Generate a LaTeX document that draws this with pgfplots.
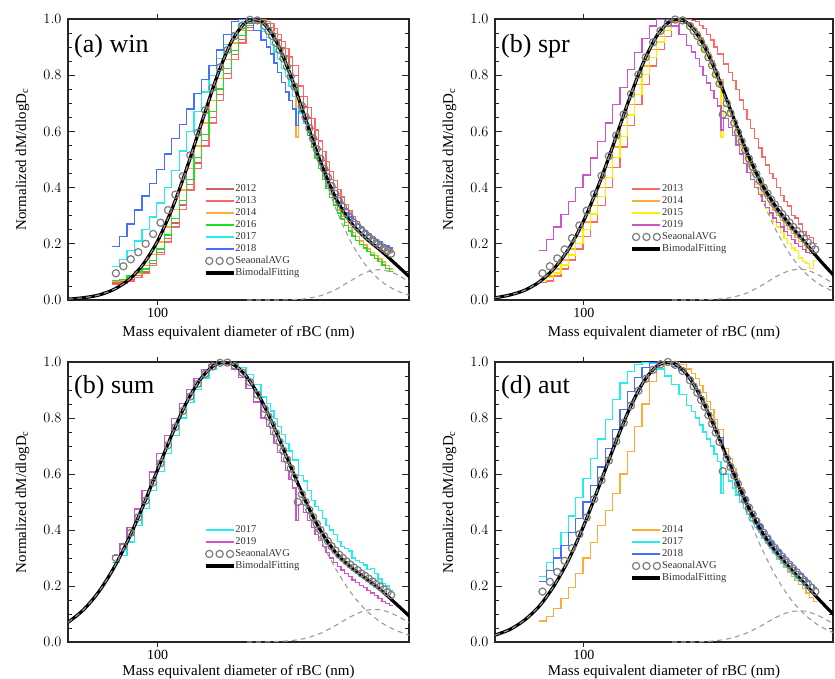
\documentclass[border=0pt]{standalone}
\usepackage{fontspec}
\setmainfont{Liberation Serif}
\usepackage{pgfplots}
\usepackage{pgfplotstable}
\pgfplotsset{compat=1.18}

\definecolor{c2012}{RGB}{214,96,96}
\definecolor{c2013}{RGB}{255,102,102}
\definecolor{c2014}{RGB}{255,172,55}
\definecolor{c2015}{RGB}{255,238,0}
\definecolor{c2016}{RGB}{34,221,34}
\definecolor{c2017}{RGB}{34,238,238}
\definecolor{c2018}{RGB}{72,110,255}
\definecolor{c2019}{RGB}{204,85,204}
\definecolor{avggrey}{RGB}{125,125,125}
\definecolor{modegrey}{RGB}{155,155,155}

% x = left edge of each step, xc = bin centre (SeaonalAVG circles)
% winter
\pgfplotstableread{
x xc c s12 s13 s14 s16 s17 s18
70.39 72.44 0.095 0.060 0.055 0.065 0.070 0.120 0.190
74.56 76.74 0.120 0.066 0.060 0.070 0.073 0.145 0.225
78.98 81.28 0.145 0.074 0.068 0.080 0.085 0.175 0.270
83.66 86.10 0.170 0.088 0.080 0.095 0.100 0.210 0.320
88.62 91.20 0.200 0.100 0.095 0.123 0.110 0.250 0.370
93.87 96.61 0.235 0.130 0.123 0.161 0.140 0.295 0.415
99.43 102.3 0.275 0.170 0.161 0.206 0.182 0.345 0.465
105.3 108.4 0.320 0.218 0.206 0.260 0.231 0.400 0.520
111.6 114.8 0.375 0.274 0.260 0.322 0.289 0.460 0.575
118.2 121.6 0.440 0.338 0.322 0.392 0.355 0.530 0.625
125.2 128.8 0.515 0.410 0.392 0.468 0.428 0.600 0.680
132.6 136.5 0.595 0.488 0.468 0.548 0.507 0.670 0.735
140.5 144.5 0.675 0.568 0.548 0.630 0.589 0.740 0.785
148.8 153.1 0.755 0.650 0.630 0.711 0.671 0.800 0.835
157.6 162.2 0.828 0.731 0.711 0.788 0.751 0.860 0.890
166.9 171.8 0.890 0.806 0.788 0.857 0.825 0.910 0.945
176.8 182.0 0.940 0.873 0.857 0.915 0.889 0.950 0.990
187.3 192.8 0.977 0.928 0.915 0.960 0.941 0.983 1.000
198.4 204.2 0.997 0.969 0.960 0.988 0.978 1.000 0.985
210.2 216.3 0.995 0.993 0.988 0.998 0.997 0.985 0.960
222.6 229.1 0.975 0.995 0.998 0.985 0.990 0.955 0.925
232.4 235.8 0.958 0.983 0.992 0.970 0.970 0.933 0.900
239.2 242.7 0.940 0.970 0.985 0.955 0.950 0.910 0.875
246.2 249.8 0.915 0.948 0.966 0.930 0.923 0.883 0.843
253.4 257.0 0.890 0.925 0.946 0.905 0.895 0.855 0.810
260.8 264.6 0.860 0.897 0.921 0.873 0.863 0.825 0.775
268.4 272.3 0.830 0.868 0.896 0.840 0.830 0.795 0.740
276.3 280.2 0.795 0.834 0.865 0.803 0.793 0.760 0.710
284.3 288.4 0.760 0.800 0.834 0.765 0.755 0.725 0.680
292.2 296.0 nan 0.800 0.834 0.580 0.755 0.725 0.620
298.0 300.0 nan 0.725 0.762 0.680 0.675 0.665 0.670
302.7 305.5 0.690 0.725 0.762 0.680 0.675 0.665 0.670
310.0 314.4 0.651 0.687 0.723 0.638 0.630 0.630 0.635
319.0 323.6 0.612 0.648 0.684 0.595 0.585 0.595 0.600
328.3 333.1 0.575 0.610 0.645 0.555 0.545 0.560 0.562
337.9 342.8 0.537 0.572 0.605 0.515 0.505 0.525 0.525
347.8 352.8 0.502 0.535 0.566 0.478 0.468 0.493 0.492
357.9 363.1 0.467 0.497 0.528 0.440 0.430 0.460 0.460
368.4 373.7 0.436 0.463 0.492 0.408 0.398 0.430 0.430
379.1 384.6 0.405 0.430 0.457 0.375 0.365 0.400 0.400
390.2 395.9 0.378 0.401 0.425 0.348 0.338 0.375 0.375
401.6 407.4 0.352 0.372 0.394 0.320 0.310 0.350 0.350
413.3 419.4 0.331 0.348 0.367 0.298 0.288 0.330 0.330
425.4 431.5 0.310 0.325 0.340 0.275 0.265 0.310 0.310
437.8 444.2 0.292 0.306 0.318 0.258 0.246 0.298 0.295
450.6 457.1 0.275 0.287 0.297 0.240 0.228 0.280 0.280
463.8 470.6 0.261 0.271 0.279 0.225 0.213 0.268 0.270
477.3 484.2 0.248 0.256 0.262 0.210 0.198 0.255 0.258
491.3 498.5 0.236 0.243 0.248 0.196 0.185 0.243 0.245
505.6 512.9 0.225 0.230 0.235 0.182 0.172 0.232 0.235
520.4 528.0 0.214 0.218 0.223 0.170 0.160 0.222 0.227
535.6 543.3 0.204 0.207 0.211 0.158 0.148 0.212 0.215
551.2 559.3 0.194 0.197 0.200 0.146 0.136 0.204 0.208
567.4 575.4 0.184 0.187 0.189 0.135 0.125 0.196 0.198
584.0 592.4 0.174 0.177 0.180 0.122 0.113 0.189 0.192
601.0 609.5 0.165 0.168 0.172 0.110 0.102 0.182 0.185
618.4 nan nan 0.168 0.172 0.110 0.102 0.182 0.185
}\tabA

% spring
\pgfplotstableread{
x xc c s13 s14 s15 s19
70.39 72.44 0.095 0.062 0.070 0.070 0.175
74.56 76.74 0.120 0.068 0.085 0.080 0.215
78.98 81.28 0.148 0.085 0.110 0.096 0.260
83.66 86.10 0.180 0.110 0.142 0.125 0.305
88.62 91.20 0.220 0.142 0.181 0.160 0.350
93.87 96.61 0.265 0.181 0.226 0.202 0.400
99.43 102.3 0.318 0.226 0.278 0.250 0.445
105.3 108.4 0.377 0.278 0.337 0.306 0.505
111.6 114.8 0.442 0.337 0.400 0.368 0.565
118.2 121.6 0.512 0.400 0.471 0.435 0.630
125.2 128.8 0.585 0.471 0.545 0.507 0.695
132.6 136.5 0.660 0.545 0.620 0.582 0.755
140.5 144.5 0.733 0.620 0.695 0.658 0.820
148.8 153.1 0.802 0.695 0.767 0.732 0.880
157.6 162.2 0.864 0.767 0.833 0.802 0.930
166.9 171.8 0.917 0.833 0.891 0.864 0.975
176.8 182.0 0.958 0.891 0.938 0.918 1.000
187.3 192.8 0.986 0.938 0.973 0.959 0.990
198.4 204.2 0.998 0.973 0.993 0.987 0.975
210.2 216.3 0.995 0.993 0.998 0.999 0.945
222.6 229.1 0.975 0.999 0.985 0.975 0.905
232.4 235.8 0.958 0.995 0.970 0.958 0.883
239.2 242.7 0.940 0.990 0.955 0.940 0.860
246.2 249.8 0.917 0.978 0.933 0.915 0.830
253.4 257.0 0.893 0.965 0.910 0.890 0.800
260.8 264.6 0.864 0.945 0.881 0.860 0.772
268.4 272.3 0.835 0.925 0.852 0.830 0.745
276.3 280.2 0.803 0.900 0.818 0.797 0.718
284.3 288.4 0.770 0.875 0.785 0.765 0.690
292.2 296.0 0.660 0.875 0.785 0.580 0.605
298.0 300.0 nan 0.840 0.710 0.690 0.645
302.7 305.5 0.700 0.840 0.710 0.690 0.645
310.0 314.4 0.665 0.810 0.672 0.655 0.615
319.0 323.6 0.630 0.781 0.635 0.620 0.585
328.3 333.1 0.597 0.748 0.598 0.583 0.552
337.9 342.8 0.565 0.712 0.562 0.545 0.520
347.8 352.8 0.534 0.677 0.528 0.510 0.487
357.9 363.1 0.503 0.642 0.495 0.475 0.455
368.4 373.7 0.475 0.610 0.465 0.442 0.428
379.1 384.6 0.448 0.574 0.435 0.410 0.400
390.2 395.9 0.424 0.541 0.409 0.382 0.375
401.6 407.4 0.400 0.509 0.383 0.355 0.350
413.3 419.4 0.379 0.480 0.360 0.327 0.330
425.4 431.5 0.358 0.451 0.338 0.300 0.310
437.8 444.2 0.340 0.432 0.319 0.280 0.292
450.6 457.1 0.322 0.401 0.300 0.260 0.275
463.8 470.6 0.306 0.372 0.283 0.240 0.260
477.3 484.2 0.290 0.350 0.266 0.220 0.245
491.3 498.5 0.275 0.335 0.251 0.202 0.230
505.6 512.9 0.260 0.300 0.236 0.185 0.215
520.4 528.0 0.246 0.292 0.222 0.175 0.202
535.6 543.3 0.232 0.270 0.208 0.150 0.190
551.2 559.3 0.218 0.245 0.195 0.138 0.180
567.4 575.4 0.205 0.230 0.183 0.130 0.170
584.0 592.4 0.192 0.222 0.174 0.112 0.165
601.0 609.5 0.180 0.200 0.165 0.140 0.160
618.4 nan nan 0.200 0.165 0.140 0.160
}\tabB

% summer
\pgfplotstableread{
x xc c s17 s19
70.39 72.44 0.300 0.285 0.310
74.56 76.74 0.340 0.310 0.350
78.98 81.28 0.390 0.357 0.410
83.66 86.10 0.445 0.415 0.475
88.62 91.20 0.505 0.478 0.540
93.87 96.61 0.570 0.542 0.607
99.43 102.3 0.638 0.608 0.673
105.3 108.4 0.703 0.674 0.737
111.6 114.8 0.767 0.738 0.797
118.2 121.6 0.825 0.800 0.852
125.2 128.8 0.877 0.855 0.902
132.6 136.5 0.922 0.903 0.942
140.5 144.5 0.958 0.943 0.972
148.8 153.1 0.984 0.973 0.992
157.6 162.2 0.997 0.992 1.000
166.9 171.8 0.998 1.000 0.993
176.8 182.0 0.985 0.995 0.975
187.3 192.8 0.962 0.980 0.945
198.4 204.2 0.928 0.955 0.905
210.2 216.3 0.884 0.920 0.857
222.6 229.1 0.833 0.875 0.800
232.4 235.8 0.805 0.852 0.770
239.2 242.7 0.776 0.825 0.740
246.2 249.8 0.746 0.798 0.708
253.4 257.0 0.715 0.770 0.677
260.8 264.6 0.683 0.742 0.645
268.4 272.3 0.652 0.710 0.612
276.3 280.2 0.620 0.682 0.580
284.3 288.4 0.588 0.650 0.550
292.2 296.0 0.500 0.650 0.435
298.0 300.0 nan 0.595 0.490
302.7 305.5 0.528 0.595 0.490
310.0 314.4 0.500 0.575 0.462
319.0 323.6 0.472 0.540 0.435
328.3 333.1 0.447 0.505 0.410
337.9 342.8 0.422 0.485 0.385
347.8 352.8 0.400 0.470 0.362
357.9 363.1 0.378 0.440 0.340
368.4 373.7 0.360 0.415 0.320
379.1 384.6 0.342 0.400 0.300
390.2 395.9 0.327 0.385 0.285
401.6 407.4 0.312 0.360 0.270
413.3 419.4 0.300 0.340 0.257
425.4 431.5 0.288 0.335 0.245
437.8 444.2 0.277 0.325 0.233
450.6 457.1 0.266 0.300 0.222
463.8 470.6 0.256 0.290 0.212
477.3 484.2 0.245 0.285 0.203
491.3 498.5 0.236 0.275 0.194
505.6 512.9 0.226 0.260 0.185
520.4 528.0 0.216 0.262 0.175
535.6 543.3 0.207 0.245 0.165
551.2 559.3 0.198 0.225 0.155
567.4 575.4 0.188 0.210 0.145
584.0 592.4 0.178 0.200 0.138
601.0 609.5 0.168 0.185 0.130
618.4 nan nan 0.185 0.130
}\tabC

% autumn
\pgfplotstableread{
x xc c s14 s17 s18
70.39 72.44 0.180 0.075 0.235 0.215
74.56 76.74 0.215 0.090 0.285 0.255
78.98 81.28 0.250 0.120 0.335 0.300
83.66 86.10 0.290 0.155 0.390 0.345
88.62 91.20 0.335 0.195 0.450 0.390
93.87 96.61 0.385 0.245 0.515 0.440
99.43 102.3 0.445 0.300 0.585 0.500
105.3 108.4 0.510 0.355 0.655 0.560
111.6 114.8 0.578 0.415 0.725 0.625
118.2 121.6 0.648 0.470 0.795 0.690
125.2 128.8 0.717 0.530 0.865 0.760
132.6 136.5 0.783 0.600 0.925 0.830
140.5 144.5 0.844 0.680 0.965 0.895
148.8 153.1 0.897 0.770 0.990 0.945
157.6 162.2 0.940 0.850 1.000 0.980
166.9 171.8 0.972 0.930 0.995 0.997
176.8 182.0 0.992 0.975 0.975 1.000
187.3 192.8 1.000 0.990 0.950 0.995
198.4 204.2 0.990 1.000 0.920 0.985
210.2 216.3 0.968 0.990 0.885 0.970
222.6 229.1 0.935 0.975 0.845 0.940
232.4 235.8 0.913 0.958 0.823 0.920
239.2 242.7 0.890 0.940 0.800 0.900
246.2 249.8 0.865 0.915 0.775 0.875
253.4 257.0 0.840 0.890 0.750 0.850
260.8 264.6 0.810 0.860 0.725 0.820
268.4 272.3 0.780 0.830 0.700 0.790
276.3 280.2 0.748 0.795 0.672 0.760
284.3 288.4 0.715 0.760 0.645 0.730
292.2 296.0 0.610 0.760 0.530 0.730
298.0 300.0 nan 0.690 0.600 0.665
302.7 305.5 0.655 0.690 0.600 0.665
310.0 314.4 0.625 0.655 0.575 0.635
319.0 323.6 0.595 0.620 0.550 0.605
328.3 333.1 0.565 0.585 0.525 0.575
337.9 342.8 0.535 0.550 0.500 0.545
347.8 352.8 0.508 0.517 0.478 0.517
357.9 363.1 0.480 0.485 0.455 0.490
368.4 373.7 0.456 0.457 0.432 0.465
379.1 384.6 0.432 0.430 0.410 0.440
390.2 395.9 0.411 0.405 0.390 0.418
401.6 407.4 0.390 0.380 0.370 0.395
413.3 419.4 0.371 0.357 0.352 0.376
425.4 431.5 0.352 0.335 0.335 0.357
437.8 444.2 0.336 0.316 0.318 0.341
450.6 457.1 0.320 0.297 0.300 0.325
463.8 470.6 0.305 0.281 0.285 0.310
477.3 484.2 0.290 0.265 0.270 0.295
491.3 498.5 0.276 0.250 0.256 0.281
505.6 512.9 0.262 0.235 0.243 0.267
520.4 528.0 0.248 0.220 0.229 0.253
535.6 543.3 0.235 0.205 0.215 0.240
551.2 559.3 0.221 0.190 0.202 0.228
567.4 575.4 0.208 0.175 0.190 0.215
584.0 592.4 0.194 0.160 0.177 0.205
601.0 609.5 0.180 0.145 0.165 0.195
618.4 nan nan 0.145 0.165 0.195
}\tabD

% bimodal fit (F) and its two modes (M1, M2) for each season
\pgfplotstableread{
x Fa M1a M2a Fb M1b M2b Fc M1c M2c Fd M1d M2d
50.12 0.003 0.003 nan 0.008 0.008 nan 0.071 0.071 nan 0.025 0.025 nan
56.23 0.008 0.008 nan 0.018 0.018 nan 0.114 0.114 nan 0.045 0.045 nan
63.10 0.017 0.017 nan 0.035 0.035 nan 0.176 0.176 nan 0.079 0.079 nan
70.79 0.036 0.036 nan 0.065 0.065 nan 0.259 0.259 nan 0.129 0.129 nan
79.43 0.069 0.069 nan 0.113 0.113 nan 0.362 0.362 nan 0.202 0.202 nan
89.13 0.125 0.125 nan 0.184 0.184 nan 0.483 0.483 nan 0.297 0.297 nan
100.0 0.210 0.210 nan 0.283 0.283 nan 0.615 0.615 nan 0.416 0.416 nan
112.2 0.328 0.328 nan 0.408 0.408 nan 0.745 0.745 nan 0.551 0.551 nan
125.9 0.475 0.475 nan 0.552 0.552 nan 0.861 0.861 nan 0.691 0.691 nan
141.3 0.638 0.638 nan 0.703 0.703 nan 0.947 0.947 nan 0.821 0.821 nan
158.5 0.796 0.796 nan 0.840 0.840 nan 0.994 0.994 nan 0.925 0.925 nan
177.8 0.922 0.922 nan 0.944 0.944 nan 0.994 0.994 nan 0.987 0.987 nan
199.5 0.991 0.991 0.000 0.996 0.996 0.000 0.947 0.947 0.000 0.998 0.998 0.000
223.9 0.990 0.990 0.000 0.987 0.987 0.000 0.861 0.861 0.000 0.955 0.955 0.000
251.2 0.918 0.918 0.000 0.920 0.919 0.001 0.747 0.745 0.002 0.868 0.867 0.001
281.8 0.791 0.790 0.001 0.807 0.804 0.003 0.620 0.615 0.005 0.750 0.745 0.005
316.2 0.636 0.631 0.005 0.670 0.661 0.009 0.497 0.483 0.014 0.621 0.607 0.014
354.8 0.485 0.469 0.016 0.534 0.510 0.024 0.394 0.362 0.032 0.499 0.468 0.031
398.1 0.360 0.323 0.038 0.420 0.370 0.050 0.318 0.259 0.060 0.399 0.342 0.057
446.7 0.275 0.206 0.069 0.334 0.252 0.082 0.267 0.176 0.091 0.324 0.237 0.087
501.2 0.220 0.123 0.098 0.267 0.161 0.105 0.227 0.114 0.113 0.263 0.155 0.108
562.3 0.176 0.068 0.108 0.205 0.097 0.108 0.186 0.071 0.115 0.207 0.097 0.110
631.0 0.128 0.035 0.093 0.142 0.055 0.087 0.138 0.042 0.096 0.149 0.057 0.092
707.9 0.079 0.016 0.062 0.085 0.029 0.056 0.089 0.023 0.066 0.095 0.032 0.063
}\fittab

\pgfplotsset{
  legend image code/.code={\draw[#1] (0pt,0pt) -- (28pt,0pt);},
  avgmarks/.style={only marks, mark=o, mark size=3.6pt, draw=none,
    mark options={draw=avggrey, line width=1.2pt},
    legend image code/.code={\draw[##1] plot coordinates {(3.6pt,0pt) (14pt,0pt) (24.4pt,0pt)};}},
}

\begin{document}
\begin{tikzpicture}

% (a) winter
\begin{axis}[at={(68pt,-300pt)}, anchor=south west, width=341pt, height=281pt, scale only axis,
  xmode=log, xmin=50, xmax=700, ymin=0, ymax=1,
  xtick=\empty, minor xtick={60,70,80,90,200,300,400,500,600},
  extra x ticks={100}, extra x tick labels={100},
  extra x tick style={tick align=outside, major tick length=5pt},
  ytick={0,0.2,0.4,0.6,0.8,1.0}, minor y tick num=3,
  yticklabel={\pgfmathprintnumber[fixed,fixed zerofill,precision=1]{\tick}},
  tick label style={font=\fontsize{14}{16}\selectfont},
  yticklabel style={xshift=-3pt},
  tick align=inside, major tick length=7pt, minor tick length=4pt,
  tick style={line width=0.9pt, black!85}, axis line style={line width=1.1pt, black!85},
  xticklabel pos=bottom, yticklabel pos=left,
  legend style={draw=none, fill=none, inner sep=0pt, outer sep=0pt,
    font=\fontsize{10.5}{12}\selectfont, text=black!80,
    nodes={inner sep=0pt, text height=8pt, text depth=2pt}, row sep=2pt,
    /tikz/every even column/.append style={column sep=5pt},
    at={(0.399,0.413)}, anchor=north west},
  legend cell align=left]
\addplot[const plot, line width=1.3pt, c2012] table[x=x,y=s12]{\tabA}; \addlegendentry{2012}
\addplot[const plot, line width=1.3pt, c2013] table[x=x,y=s13]{\tabA}; \addlegendentry{2013}
\addplot[const plot, line width=1.3pt, c2014] table[x=x,y=s14]{\tabA}; \addlegendentry{2014}
\addplot[const plot, line width=1.3pt, c2016] table[x=x,y=s16]{\tabA}; \addlegendentry{2016}
\addplot[const plot, line width=1.3pt, c2017] table[x=x,y=s17]{\tabA}; \addlegendentry{2017}
\addplot[const plot, line width=1.3pt, c2018] table[x=x,y=s18]{\tabA}; \addlegendentry{2018}
\addplot[avgmarks] table[x=xc,y=c]{\tabA}; \addlegendentry{SeaonalAVG}
\addplot[smooth, black, line width=3.2pt] table[x=x,y=Fa]{\fittab}; \addlegendentry{BimodalFitting}
\addplot[smooth, modegrey, line width=1.1pt, dash pattern=on 5pt off 4pt, forget plot] table[x=x,y=M1a]{\fittab};
\addplot[smooth, modegrey, line width=1.1pt, dash pattern=on 5pt off 4pt, forget plot] table[x=x,y=M2a]{\fittab};
\end{axis}

% (b) spring
\begin{axis}[at={(495pt,-300pt)}, anchor=south west, width=338pt, height=281pt, scale only axis,
  xmode=log, xmin=50, xmax=700, ymin=0, ymax=1,
  xtick=\empty, minor xtick={60,70,80,90,200,300,400,500,600},
  extra x ticks={100}, extra x tick labels={100},
  extra x tick style={tick align=outside, major tick length=5pt},
  ytick={0,0.2,0.4,0.6,0.8,1.0}, minor y tick num=3,
  yticklabel={\pgfmathprintnumber[fixed,fixed zerofill,precision=1]{\tick}},
  tick label style={font=\fontsize{14}{16}\selectfont},
  yticklabel style={xshift=-3pt},
  tick align=inside, major tick length=7pt, minor tick length=4pt,
  tick style={line width=0.9pt, black!85}, axis line style={line width=1.1pt, black!85},
  xticklabel pos=bottom, yticklabel pos=left,
  legend style={draw=none, fill=none, inner sep=0pt, outer sep=0pt,
    font=\fontsize{10.5}{12}\selectfont, text=black!80,
    nodes={inner sep=0pt, text height=8pt, text depth=2pt}, row sep=2pt,
    /tikz/every even column/.append style={column sep=5pt},
    at={(0.402,0.413)}, anchor=north west},
  legend cell align=left]
\addplot[const plot, line width=1.3pt, c2013] table[x=x,y=s13]{\tabB}; \addlegendentry{2013}
\addplot[const plot, line width=1.3pt, c2014] table[x=x,y=s14]{\tabB}; \addlegendentry{2014}
\addplot[const plot, line width=1.3pt, c2015] table[x=x,y=s15]{\tabB}; \addlegendentry{2015}
\addplot[const plot, line width=1.3pt, c2019] table[x=x,y=s19]{\tabB}; \addlegendentry{2019}
\addplot[avgmarks] table[x=xc,y=c]{\tabB}; \addlegendentry{SeaonalAVG}
\addplot[smooth, black, line width=3.2pt] table[x=x,y=Fb]{\fittab}; \addlegendentry{BimodalFitting}
\addplot[smooth, modegrey, line width=1.1pt, dash pattern=on 5pt off 4pt, forget plot] table[x=x,y=M1b]{\fittab};
\addplot[smooth, modegrey, line width=1.1pt, dash pattern=on 5pt off 4pt, forget plot] table[x=x,y=M2b]{\fittab};
\end{axis}

% (c) summer
\begin{axis}[at={(68pt,-642pt)}, anchor=south west, width=341pt, height=280pt, scale only axis,
  xmode=log, xmin=50, xmax=700, ymin=0, ymax=1,
  xtick=\empty, minor xtick={60,70,80,90,200,300,400,500,600},
  extra x ticks={100}, extra x tick labels={100},
  extra x tick style={tick align=outside, major tick length=5pt},
  ytick={0,0.2,0.4,0.6,0.8,1.0}, minor y tick num=3,
  yticklabel={\pgfmathprintnumber[fixed,fixed zerofill,precision=1]{\tick}},
  tick label style={font=\fontsize{14}{16}\selectfont},
  yticklabel style={xshift=-3pt},
  tick align=inside, major tick length=7pt, minor tick length=4pt,
  tick style={line width=0.9pt, black!85}, axis line style={line width=1.1pt, black!85},
  xticklabel pos=bottom, yticklabel pos=left,
  legend style={draw=none, fill=none, inner sep=0pt, outer sep=0pt,
    font=\fontsize{10.5}{12}\selectfont, text=black!80,
    nodes={inner sep=0pt, text height=8pt, text depth=2pt}, row sep=2pt,
    /tikz/every even column/.append style={column sep=5pt},
    at={(0.399,0.418)}, anchor=north west},
  legend cell align=left]
\addplot[const plot, line width=1.3pt, c2017] table[x=x,y=s17]{\tabC}; \addlegendentry{2017}
\addplot[const plot, line width=1.3pt, c2019] table[x=x,y=s19]{\tabC}; \addlegendentry{2019}
\addplot[avgmarks] table[x=xc,y=c]{\tabC}; \addlegendentry{SeaonalAVG}
\addplot[smooth, black, line width=3.2pt] table[x=x,y=Fc]{\fittab}; \addlegendentry{BimodalFitting}
\addplot[smooth, modegrey, line width=1.1pt, dash pattern=on 5pt off 4pt, forget plot] table[x=x,y=M1c]{\fittab};
\addplot[smooth, modegrey, line width=1.1pt, dash pattern=on 5pt off 4pt, forget plot] table[x=x,y=M2c]{\fittab};
\end{axis}

% (d) autumn
\begin{axis}[at={(495pt,-642pt)}, anchor=south west, width=338pt, height=280pt, scale only axis,
  xmode=log, xmin=50, xmax=700, ymin=0, ymax=1,
  xtick=\empty, minor xtick={60,70,80,90,200,300,400,500,600},
  extra x ticks={100}, extra x tick labels={100},
  extra x tick style={tick align=outside, major tick length=5pt},
  ytick={0,0.2,0.4,0.6,0.8,1.0}, minor y tick num=3,
  yticklabel={\pgfmathprintnumber[fixed,fixed zerofill,precision=1]{\tick}},
  tick label style={font=\fontsize{14}{16}\selectfont},
  yticklabel style={xshift=-3pt},
  tick align=inside, major tick length=7pt, minor tick length=4pt,
  tick style={line width=0.9pt, black!85}, axis line style={line width=1.1pt, black!85},
  xticklabel pos=bottom, yticklabel pos=left,
  legend style={draw=none, fill=none, inner sep=0pt, outer sep=0pt,
    font=\fontsize{10.5}{12}\selectfont, text=black!80,
    nodes={inner sep=0pt, text height=8pt, text depth=2pt}, row sep=2pt,
    /tikz/every even column/.append style={column sep=5pt},
    at={(0.402,0.418)}, anchor=north west},
  legend cell align=left]
\addplot[const plot, line width=1.3pt, c2014] table[x=x,y=s14]{\tabD}; \addlegendentry{2014}
\addplot[const plot, line width=1.3pt, c2017] table[x=x,y=s17]{\tabD}; \addlegendentry{2017}
\addplot[const plot, line width=1.3pt, c2018] table[x=x,y=s18]{\tabD}; \addlegendentry{2018}
\addplot[avgmarks] table[x=xc,y=c]{\tabD}; \addlegendentry{SeaonalAVG}
\addplot[smooth, black, line width=3.2pt] table[x=x,y=Fd]{\fittab}; \addlegendentry{BimodalFitting}
\addplot[smooth, modegrey, line width=1.1pt, dash pattern=on 5pt off 4pt, forget plot] table[x=x,y=M1d]{\fittab};
\addplot[smooth, modegrey, line width=1.1pt, dash pattern=on 5pt off 4pt, forget plot] table[x=x,y=M2d]{\fittab};
\end{axis}

% panel titles
\begin{scope}[every node/.style={inner sep=0pt, anchor=base west, font=\fontsize{26}{30}\selectfont}]
\node at (74pt,-52pt) {(a) win};
\node at (501pt,-52pt) {(b) spr};
\node at (74pt,-393pt) {(b) sum};
\node at (501pt,-393pt) {(d) aut};
\end{scope}

% axis labels
\begin{scope}[every node/.style={inner sep=0pt, font=\fontsize{15}{18}\selectfont}]
\node[anchor=base] at (238.5pt,-336pt) {Mass equivalent diameter of rBC (nm)};
\node[anchor=base] at (664pt,-336pt) {Mass equivalent diameter of rBC (nm)};
\node[anchor=base] at (238.5pt,-675pt) {Mass equivalent diameter of rBC (nm)};
\node[anchor=base] at (664pt,-675pt) {Mass equivalent diameter of rBC (nm)};
\node[rotate=90, anchor=base] at (26pt,-159.5pt) {Normalized dM/dlogD\textsubscript{c}};
\node[rotate=90, anchor=base] at (453pt,-159.5pt) {Normalized dM/dlogD\textsubscript{c}};
\node[rotate=90, anchor=base] at (26pt,-502pt) {Normalized dM/dlogD\textsubscript{c}};
\node[rotate=90, anchor=base] at (453pt,-502pt) {Normalized dM/dlogD\textsubscript{c}};
\end{scope}

\pgfresetboundingbox
\useasboundingbox (0pt,0pt) rectangle (835pt,-678pt);
\end{tikzpicture}
\end{document}
